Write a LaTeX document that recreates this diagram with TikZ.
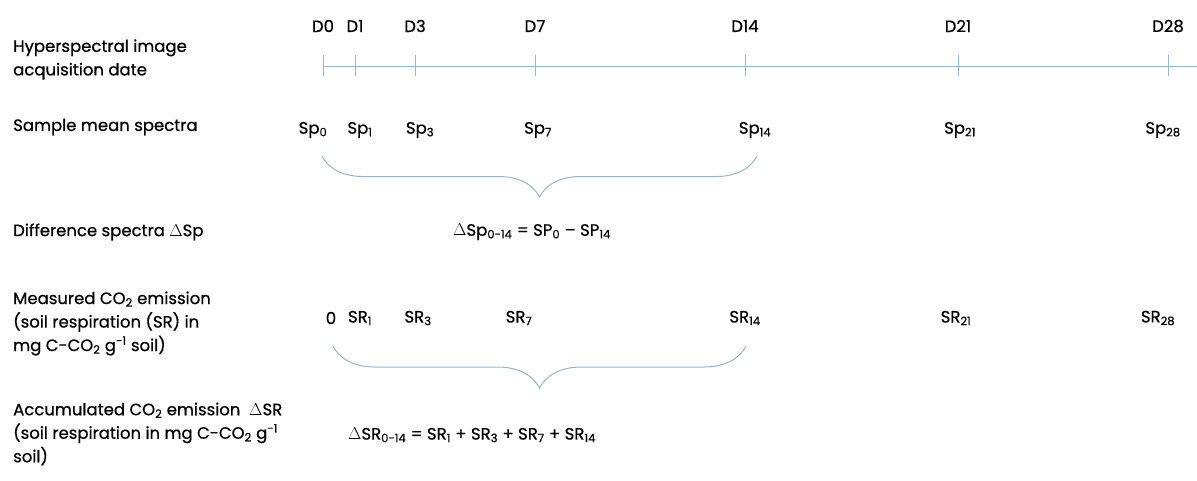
\documentclass[tikz,border=0pt]{standalone}
\usepackage{fontspec}
\setmainfont{Poppins}[FakeBold=0.6]
\usetikzlibrary{decorations.pathreplacing}
\definecolor{lineblue}{RGB}{150,182,204}

\begin{document}
\begin{tikzpicture}[x=1pt,y=-1pt,
  every node/.style={font=\fontsize{16.5}{23.5}\selectfont, inner sep=0pt},
  rowlbl/.style={anchor=west, align=left},
  axis/.style={draw=lineblue, line width=1pt},
  span/.style={draw=lineblue, line width=1pt, decorate,
    decoration={brace, mirror, amplitude=41pt}}]
  \useasboundingbox (0,0) rectangle (1197,480);

  % row labels
  \node[rowlbl] (acq) at (13,59.5) {Hyperspectral image\\acquisition date};
  \node[rowlbl] (msp) at (13,127) {Sample mean spectra};
  \node[rowlbl] (dsp) at (13,232) {Difference spectra $\Delta$Sp};
  \node[rowlbl] (mco) at (13,323.5) {Measured CO\textsubscript{2} emission\\(soil respiration (SR) in\\mg C-CO\textsubscript{2} g\textsuperscript{-1} soil)};
  \node[rowlbl] (aco) at (13,434) {Accumulated CO\textsubscript{2} emission\ \ $\Delta$SR\\(soil respiration in mg C-CO\textsubscript{2} g\textsuperscript{-1}\\soil)};

  % time axis
  \coordinate (ax0) at (323,66);
  \coordinate (ax1) at (1197,66);
  \draw[axis] (ax0) -- (ax1);
  \foreach \x/\d in {323/0,355/1,415/3,535/7,745/14,958/21,1168/28} {
    \node (d\d) at (\x,26) {D\d};
    \coordinate (tt\d) at (\x,55);
    \coordinate (tb\d) at (\x,76);
    \draw[axis] (tt\d) -- (tb\d);
  }

  % spectra
  \foreach \x/\d in {313/0,360/1,420/3,538/7,755/14,960/21,1163/28}
    \node (sp\d) at (\x,130) {Sp\textsubscript{\d}};

  % soil respiration
  \node (sr0) at (331,318) {0};
  \foreach \x/\d in {360/1,418/3,519/7,745/14,956/21,1158/28}
    \node (sr\d) at (\x,318) {SR\textsubscript{\d}};

  % braces
  \coordinate (b1l) at (322,156);
  \coordinate (b1r) at (757,156);
  \draw[span] (b1l) -- (b1r);
  \coordinate (b2l) at (333,346);
  \coordinate (b2r) at (746,346);
  \draw[span, decoration={amplitude=42pt}] (b2l) -- (b2r);

  % formulas
  \node (fsp) at (532,232) {$\Delta$Sp\textsubscript{0-14} = SP\textsubscript{0} -- SP\textsubscript{14}};
  \node (fsr) at (472,435) {$\Delta$SR\textsubscript{0-14} = SR\textsubscript{1} + SR\textsubscript{3} + SR\textsubscript{7} + SR\textsubscript{14}};
\end{tikzpicture}
\end{document}
